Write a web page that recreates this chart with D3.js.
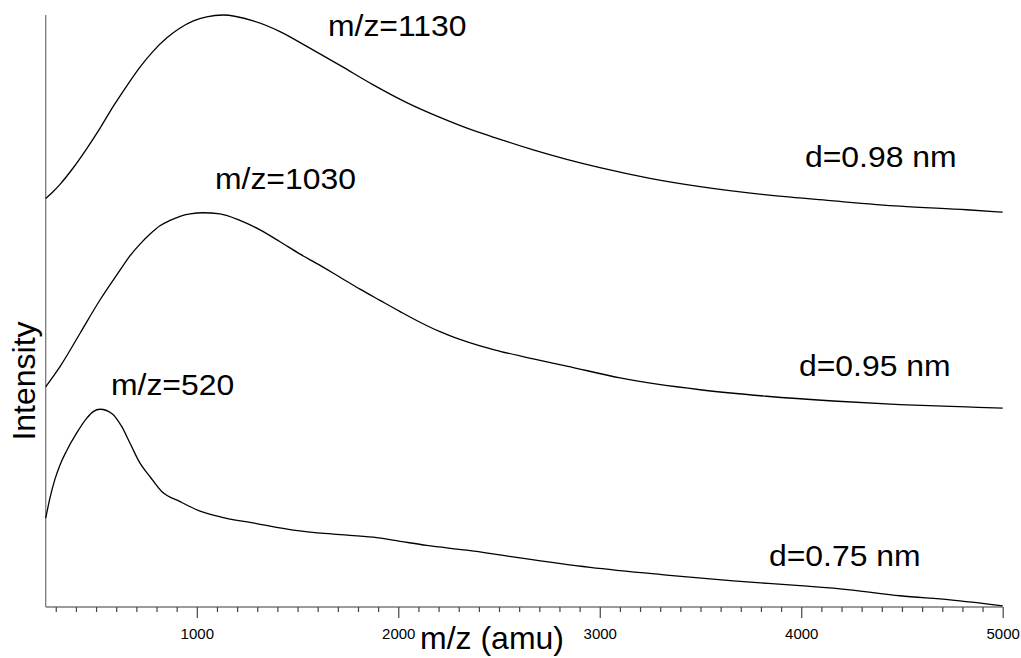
<!DOCTYPE html>
<html>
<head>
<meta charset="utf-8">
<script src="https://cdn.jsdelivr.net/npm/d3@7/dist/d3.min.js"></script>
<style>
  html, body { margin: 0; padding: 0; background: #fff; }
  svg { display: block; }
  text { font-family: "Liberation Sans", Arial, sans-serif; fill: #000; }
</style>
</head>
<body>
<svg id="chart" width="1021" height="658"></svg>
<script>
// Mass spectra of three cluster sizes, stacked with vertical offsets (arbitrary intensity units)
const mz098 = [250, 285, 321, 387, 453, 520, 586, 652, 718, 784, 850, 917, 983, 1049, 1130, 1280, 1413, 1546, 1711, 1876, 2042, 2207, 2372, 2505, 2670, 2836, 3001, 3249, 3498, 3829, 4159, 4490, 4821, 5000];
const int098 = [69.0, 70.1, 71.4, 74.2, 77.4, 80.9, 84.6, 88.0, 91.2, 93.9, 96.1, 97.8, 99.0, 99.7, 100.0, 99.0, 97.2, 94.7, 91.5, 88.2, 85.2, 82.7, 80.5, 79.0, 77.2, 75.6, 74.2, 72.4, 71.0, 69.6, 68.6, 67.7, 67.1, 66.7];

const mz095 = [250, 321, 420, 520, 619, 668, 718, 768, 817, 867, 917, 967, 1030, 1115, 1214, 1314, 1413, 1513, 1612, 1711, 1810, 1909, 2009, 2108, 2207, 2306, 2406, 2505, 2670, 2836, 3101, 3498, 3829, 4159, 4490, 4821, 5000];
const int095 = [37.2, 40.6, 46.2, 51.9, 56.9, 59.3, 61.3, 63.0, 64.4, 65.3, 66.0, 66.4, 66.6, 66.4, 65.3, 63.7, 61.7, 59.6, 57.7, 55.7, 53.7, 51.8, 49.9, 48.1, 46.5, 45.2, 44.1, 43.2, 41.9, 40.7, 38.7, 36.7, 35.6, 34.8, 34.2, 33.8, 33.6];

const mz075 = [250, 271, 296, 321, 354, 404, 454, 486, 520, 578, 627, 668, 718, 768, 826, 917, 1016, 1132, 1297, 1479, 1678, 1876, 2009, 2141, 2340, 2505, 2604, 2952, 3332, 3663, 3994, 4242, 4490, 4739, 5000];
const int075 = [15.0, 18.4, 21.6, 24.0, 26.4, 29.4, 31.9, 33.0, 33.4, 32.7, 30.5, 27.7, 24.3, 22.0, 19.5, 17.8, 16.2, 15.1, 14.1, 13.0, 12.3, 11.8, 11.1, 10.4, 9.6, 8.8, 8.3, 6.7, 5.4, 4.4, 3.6, 2.9, 1.9, 1.2, 0.2];

const peakLabels = ["m/z=1130", "m/z=1030", "m/z=520"];
const sizeLabels = ["d=0.98 nm", "d=0.95 nm", "d=0.75 nm"];
const majorTicks = [1000, 2000, 3000, 4000, 5000];

const series = [
  { mz: mz098, y: int098, peak: peakLabels[0], size: sizeLabels[0] },
  { mz: mz095, y: int095, peak: peakLabels[1], size: sizeLabels[1] },
  { mz: mz075, y: int075, peak: peakLabels[2], size: sizeLabels[2] }
];

const svg = d3.select("#chart");
const x = d3.scaleLinear().domain([250, 5000]).range([45.7, 1002.7]);
const y = d3.scaleLinear().domain([0, 100]).range([607, 15]);

// Axes
const axisColor = "#7a7a7a";
svg.append("line")
  .attr("x1", x(250)).attr("x2", x(250))
  .attr("y1", y(100)).attr("y2", y(0))
  .attr("stroke", axisColor).attr("stroke-width", 1.3);
svg.append("line")
  .attr("x1", x(250)).attr("x2", x(5000))
  .attr("y1", y(0)).attr("y2", y(0))
  .attr("stroke", axisColor).attr("stroke-width", 1.3);

const minor = d3.range(300, 5001, 100).filter(v => v % 1000 !== 0);
const xAxisMinor = d3.axisBottom(x).tickValues(minor).tickSize(5).tickFormat("");
const xAxisMajor = d3.axisBottom(x).tickValues(majorTicks).tickSize(11).tickPadding(10).tickFormat(d3.format("d"));

const gMinor = svg.append("g").attr("transform", `translate(0,${y(0)})`).call(xAxisMinor);
const gMajor = svg.append("g").attr("transform", `translate(0,${y(0)})`).call(xAxisMajor);
[gMinor, gMajor].forEach(g => {
  g.select(".domain").remove();
  g.selectAll(".tick line").attr("stroke", "#444").attr("stroke-width", 1.2);
});
gMajor.selectAll(".tick text")
  .attr("font-family", "Liberation Sans, Arial, sans-serif")
  .attr("font-size", 15).attr("fill", "#000");

// Axis titles
svg.append("text")
  .attr("x", 420).attr("y", 649)
  .attr("font-size", 32)
  .text("m/z (amu)");
svg.append("text")
  .attr("transform", "translate(35,381) rotate(-90)")
  .attr("text-anchor", "middle")
  .attr("font-size", 32)
  .text("Intensity");

// Spectra
const line = d3.line()
  .x(d => x(d[0]))
  .y(d => y(d[1]))
  .curve(d3.curveMonotoneX);

series.forEach(s => {
  const pts = s.mz.map((m, i) => [m, s.y[i]]);
  svg.append("path")
    .datum(pts)
    .attr("fill", "none")
    .attr("stroke", "#000")
    .attr("stroke-width", 1.3)
    .attr("d", line);
});

// Annotations: peak position and particle size for each trace
const labelPos = [
  { peak: [328, 36], size: [805, 167] },
  { peak: [215, 189], size: [799, 376] },
  { peak: [111, 395], size: [769, 566] }
];
function label(txt, p) {
  svg.append("text")
    .attr("transform", `translate(${p[0]},${p[1]}) scale(1.1,1)`)
    .attr("font-size", 29)
    .text(txt);
}
series.forEach((s, i) => {
  label(s.peak, labelPos[i].peak);
  label(s.size, labelPos[i].size);
});
</script>
</body>
</html>
